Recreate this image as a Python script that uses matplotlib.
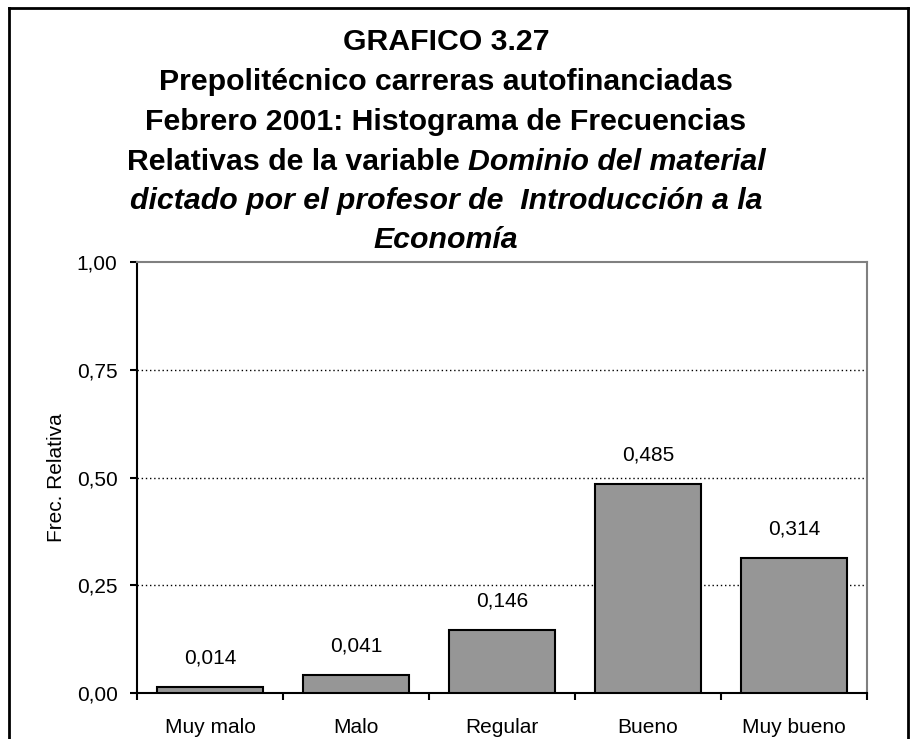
import matplotlib
matplotlib.use("Agg")
import matplotlib.pyplot as plt
from matplotlib.ticker import FixedLocator, FuncFormatter

categories = ["Muy malo", "Malo", "Regular", "Bueno", "Muy bueno"]
values = [0.014, 0.041, 0.146, 0.485, 0.314]
value_labels = ["0,014", "0,041", "0,146", "0,485", "0,314"]
yticks = [0.0, 0.25, 0.5, 0.75, 1.0]
ylabel = "Frec. Relativa"
title_lines = [
    [("GRAFICO 3.27", "normal")],
    [("Prepolitécnico carreras autofinanciadas", "normal")],
    [("Febrero 2001: Histograma de Frecuencias", "normal")],
    [("Relativas de la variable ", "normal"), ("Dominio del material", "italic")],
    [("dictado por el profesor de  Introducción a la", "italic")],
    [("Economía", "italic")],
]

plt.rcParams['font.family'] = ['Liberation Sans', 'DejaVu Sans']

W, H = 917, 739
fig = plt.figure(figsize=(W / 100, H / 100), dpi=100)
fig.patch.set_facecolor("white")

# outer frame (bottom cut off)
fig.add_artist(plt.Line2D([9 / W, 9 / W], [0, 1 - 8 / H], transform=fig.transFigure, color="black", lw=2))
fig.add_artist(plt.Line2D([908 / W, 908 / W], [0, 1 - 8 / H], transform=fig.transFigure, color="black", lw=2))
fig.add_artist(plt.Line2D([9 / W, 908 / W], [1 - 8 / H, 1 - 8 / H], transform=fig.transFigure, color="black", lw=2))

left, right, top, bottom = 137, 867, 262, 693
ax = fig.add_axes([left / W, 1 - bottom / H, (right - left) / W, (bottom - top) / H])

small = 15
x = list(range(len(categories)))
ax.bar(x, values, width=0.726, color="#969696", edgecolor="black", linewidth=1.5, zorder=3)
for xi, v, lab in zip(x, values, value_labels):
    ax.text(xi, v + 0.045, lab, ha="center", va="bottom", fontsize=small, zorder=4)

ax.set_xlim(-0.5, len(categories) - 0.5)
ax.set_ylim(0, 1)
ax.set_yticks(yticks)
ax.yaxis.set_major_formatter(FuncFormatter(lambda v, p: f"{v:.2f}".replace(".", ",")))
for yv in yticks[1:-1]:
    ax.axhline(yv, color="black", lw=1, ls=(0, (1, 2)), zorder=1)

ax.xaxis.set_major_locator(FixedLocator([i - 0.5 for i in range(len(categories) + 1)]))
ax.xaxis.set_major_formatter(FuncFormatter(lambda v, p: ""))
ax.xaxis.set_minor_locator(FixedLocator(x))
ax.xaxis.set_minor_formatter(FuncFormatter(lambda v, p: categories[int(round(v))] if 0 <= round(v) < len(categories) else ""))
ax.tick_params(axis="x", which="minor", length=0, pad=18, labelsize=small)
ax.tick_params(axis="x", which="major", length=5, width=1.5, direction="out")
ax.tick_params(axis="y", length=5, width=1.5, direction="out", labelsize=small, pad=9)

ax.set_ylabel(ylabel, fontsize=small, labelpad=8)

ax.spines["left"].set_linewidth(1.5)
ax.spines["bottom"].set_linewidth(1.5)
ax.spines["top"].set_color("#808080")
ax.spines["right"].set_color("#808080")
ax.spines["top"].set_linewidth(1.5)
ax.spines["right"].set_linewidth(1.5)

# title with mixed styles
renderer = fig.canvas.get_renderer()
cx = 446
line_ys = [42, 82, 122, 162, 201, 240]
fs = 21.8
for segs, ly in zip(title_lines, line_ys):
    texts = []
    widths = []
    for s, style in segs:
        t = fig.text(0, 0, s, fontsize=fs, fontweight="bold", style=style, va="center", ha="left")
        bb = t.get_window_extent(renderer=renderer)
        texts.append(t)
        widths.append(bb.width)
    total = sum(widths)
    xpos = cx - total / 2
    for t, w in zip(texts, widths):
        t.set_position((xpos / W, 1 - ly / H))
        xpos += w

fig.savefig("out.png", dpi=100)
